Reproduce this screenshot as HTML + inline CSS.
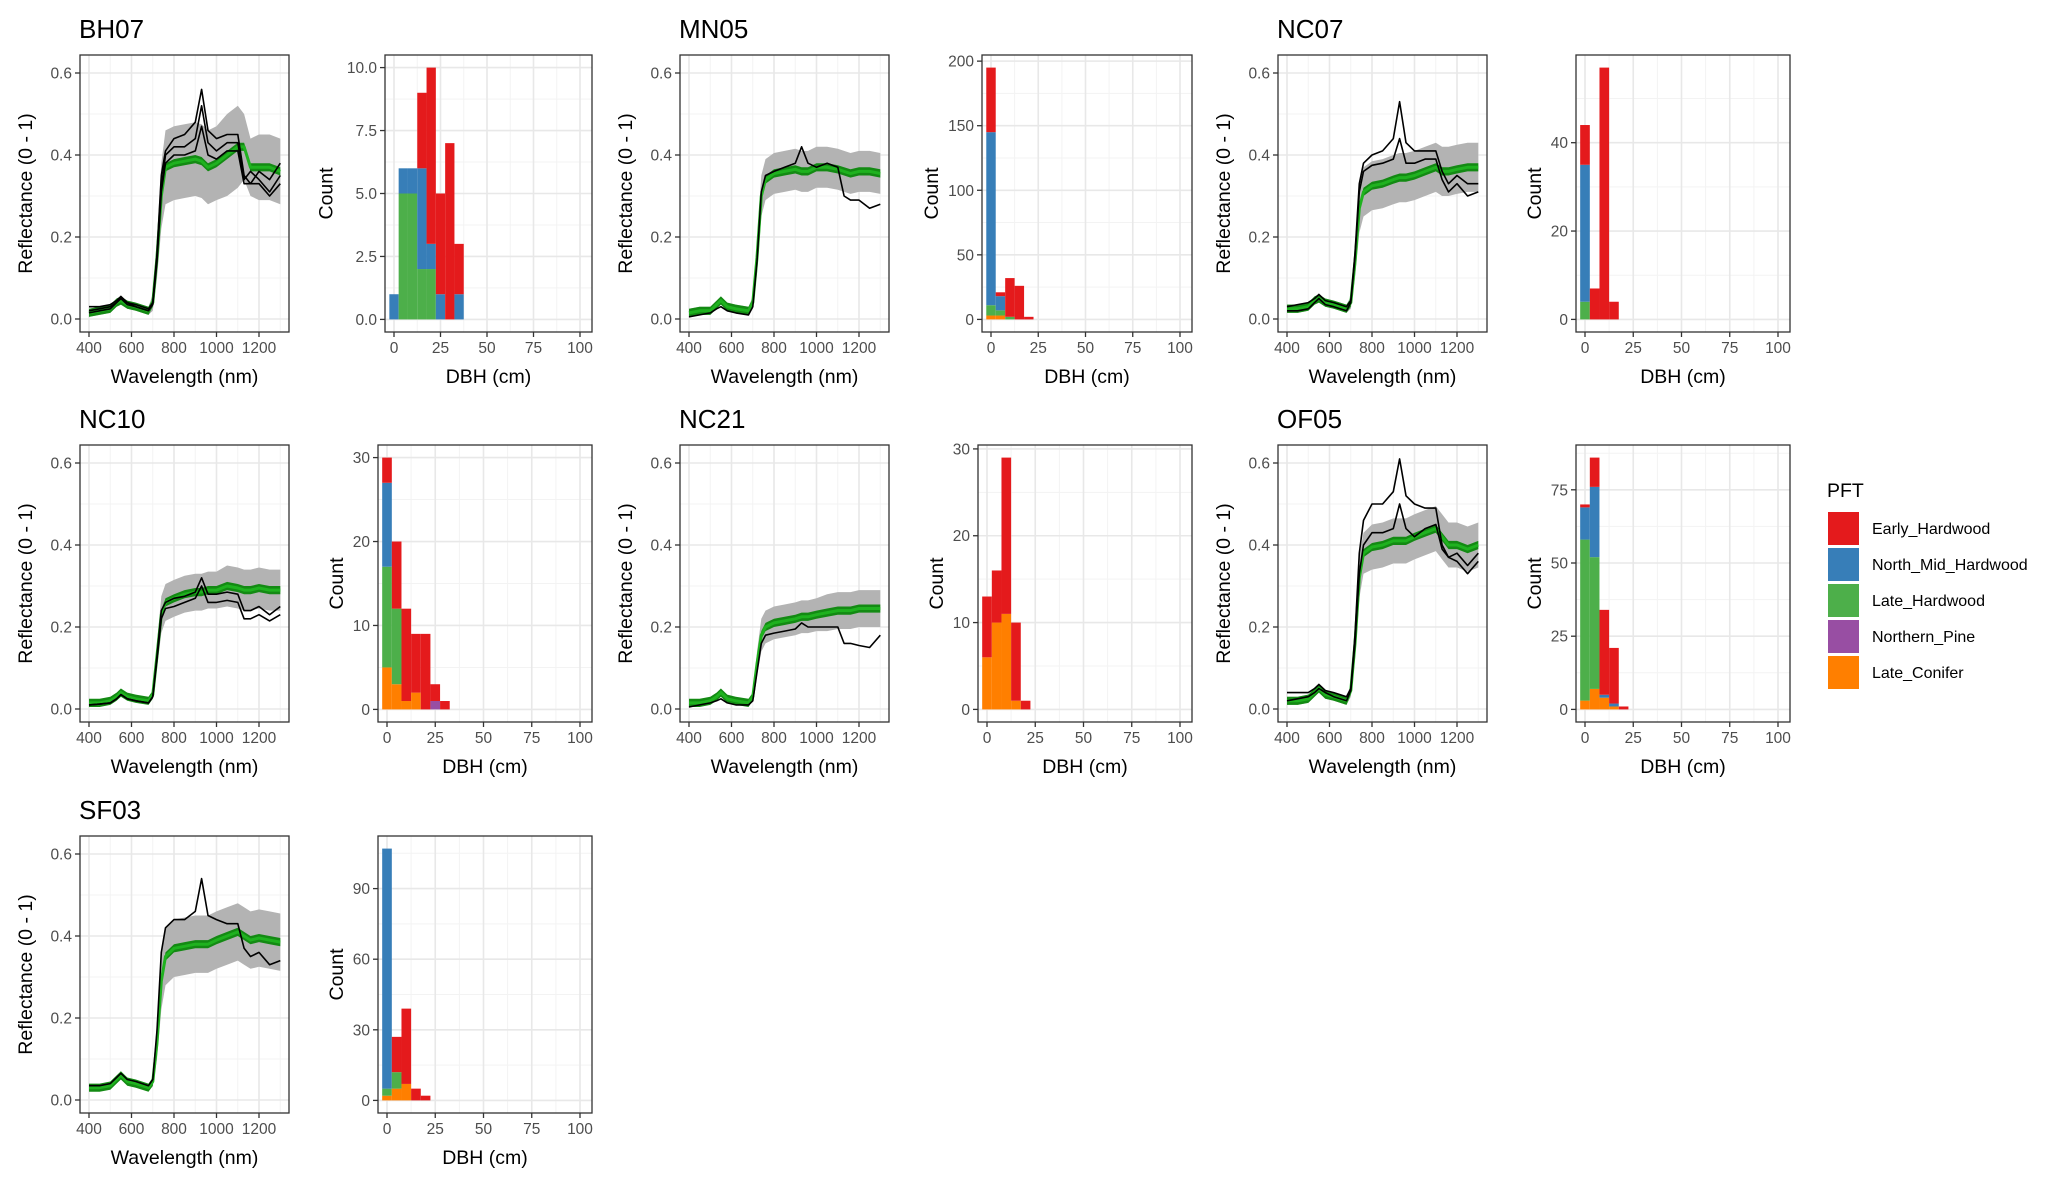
<!DOCTYPE html>
<html><head><meta charset="utf-8"><style>
html,body{margin:0;padding:0;background:#fff;}
svg{display:block;font-family:"Liberation Sans",Arial,sans-serif;}
</style></head><body>
<svg id="chart" width="2067" height="1185" viewBox="0 0 2067 1185" xmlns="http://www.w3.org/2000/svg"></svg>
<script>
const sites = ["BH07","MN05","NC07","NC10","NC21","OF05","SF03"];
const wavelengths = [400,450,500,530,550,580,620,680,700,720,740,760,800,850,900,930,960,1000,1050,1100,1130,1160,1200,1250,1300];
const meanBH07 = [0.015,0.02,0.025,0.04,0.045,0.035,0.03,0.02,0.04,0.15,0.30,0.37,0.38,0.385,0.39,0.385,0.37,0.38,0.40,0.42,0.42,0.37,0.37,0.37,0.36];
const sdBH07 = [0.01,0.01,0.01,0.01,0.01,0.01,0.01,0.01,0.02,0.05,0.08,0.09,0.09,0.09,0.09,0.09,0.09,0.09,0.10,0.10,0.08,0.07,0.08,0.08,0.08];
const linesBH07 = [
 [0.03,0.03,0.035,0.045,0.055,0.04,0.035,0.025,0.04,0.16,0.35,0.41,0.44,0.45,0.48,0.56,0.46,0.44,0.45,0.45,0.35,0.33,0.36,0.34,0.38],
 [0.02,0.025,0.03,0.04,0.05,0.04,0.03,0.02,0.04,0.15,0.32,0.40,0.42,0.42,0.44,0.52,0.43,0.41,0.43,0.43,0.34,0.36,0.34,0.31,0.35],
 [0.015,0.02,0.025,0.04,0.05,0.035,0.03,0.02,0.035,0.14,0.31,0.38,0.40,0.40,0.41,0.47,0.40,0.39,0.41,0.41,0.33,0.33,0.33,0.30,0.33]];
const meanMN05 = [0.015,0.02,0.02,0.035,0.045,0.03,0.025,0.02,0.04,0.15,0.30,0.34,0.355,0.36,0.365,0.36,0.36,0.37,0.37,0.365,0.36,0.355,0.36,0.36,0.355];
const sdMN05 = [0.01,0.01,0.01,0.01,0.01,0.01,0.01,0.01,0.015,0.04,0.05,0.05,0.05,0.05,0.05,0.05,0.05,0.05,0.05,0.05,0.05,0.05,0.05,0.05,0.05];
const linesMN05 = [
 [0.005,0.01,0.015,0.025,0.03,0.02,0.015,0.01,0.03,0.14,0.31,0.35,0.36,0.37,0.38,0.42,0.38,0.37,0.38,0.37,0.30,0.29,0.29,0.27,0.28]];
const meanNC07 = [0.025,0.025,0.03,0.045,0.05,0.04,0.035,0.025,0.04,0.14,0.27,0.31,0.325,0.33,0.34,0.345,0.345,0.35,0.36,0.37,0.36,0.36,0.365,0.37,0.37];
const sdNC07 = [0.01,0.01,0.01,0.01,0.01,0.01,0.01,0.01,0.015,0.04,0.06,0.06,0.06,0.06,0.06,0.06,0.06,0.06,0.06,0.06,0.06,0.06,0.06,0.06,0.06];
const linesNC07 = [
 [0.03,0.035,0.04,0.05,0.06,0.045,0.04,0.03,0.045,0.16,0.33,0.38,0.40,0.41,0.44,0.53,0.43,0.41,0.41,0.41,0.36,0.33,0.35,0.33,0.33],
 [0.02,0.02,0.025,0.04,0.05,0.035,0.03,0.02,0.04,0.15,0.31,0.36,0.375,0.38,0.39,0.44,0.38,0.38,0.39,0.39,0.34,0.31,0.33,0.30,0.31]];
const meanNC10 = [0.015,0.015,0.02,0.03,0.04,0.03,0.025,0.02,0.035,0.13,0.23,0.26,0.27,0.28,0.285,0.285,0.29,0.29,0.30,0.295,0.29,0.29,0.295,0.29,0.29];
const sdNC10 = [0.008,0.008,0.008,0.008,0.01,0.008,0.008,0.008,0.01,0.03,0.045,0.045,0.045,0.045,0.045,0.045,0.045,0.045,0.05,0.05,0.05,0.05,0.05,0.05,0.05];
const linesNC10 = [
 [0.01,0.012,0.015,0.025,0.035,0.025,0.02,0.015,0.03,0.13,0.24,0.26,0.27,0.275,0.285,0.32,0.28,0.28,0.285,0.28,0.24,0.24,0.25,0.23,0.25],
 [0.01,0.012,0.015,0.025,0.035,0.025,0.02,0.015,0.03,0.12,0.22,0.245,0.25,0.26,0.27,0.30,0.26,0.26,0.265,0.26,0.22,0.22,0.23,0.215,0.23]];
const meanNC21 = [0.015,0.015,0.02,0.03,0.04,0.025,0.02,0.015,0.03,0.11,0.18,0.20,0.21,0.215,0.22,0.225,0.225,0.23,0.235,0.24,0.24,0.24,0.245,0.245,0.245];
const sdNC21 = [0.008,0.008,0.008,0.008,0.01,0.008,0.008,0.008,0.01,0.03,0.04,0.04,0.04,0.04,0.04,0.04,0.04,0.04,0.045,0.045,0.045,0.045,0.045,0.045,0.045];
const linesNC21 = [
 [0.005,0.01,0.015,0.02,0.025,0.015,0.01,0.01,0.02,0.09,0.16,0.18,0.185,0.19,0.195,0.21,0.20,0.20,0.20,0.20,0.16,0.16,0.155,0.15,0.18]];
const meanOF05 = [0.02,0.02,0.025,0.04,0.05,0.035,0.03,0.02,0.045,0.16,0.32,0.38,0.395,0.40,0.41,0.41,0.41,0.42,0.43,0.44,0.42,0.40,0.40,0.39,0.40];
const sdOF05 = [0.01,0.01,0.01,0.01,0.01,0.01,0.01,0.01,0.015,0.04,0.05,0.05,0.055,0.055,0.055,0.055,0.055,0.055,0.055,0.055,0.055,0.055,0.055,0.055,0.055];
const linesOF05 = [
 [0.04,0.04,0.04,0.05,0.06,0.045,0.04,0.03,0.05,0.18,0.38,0.46,0.50,0.50,0.53,0.61,0.52,0.50,0.49,0.49,0.40,0.37,0.36,0.33,0.36],
 [0.02,0.025,0.03,0.04,0.05,0.04,0.03,0.02,0.045,0.16,0.33,0.40,0.43,0.43,0.44,0.50,0.44,0.42,0.44,0.45,0.39,0.37,0.38,0.35,0.38]];
const meanSF03 = [0.03,0.03,0.035,0.05,0.06,0.045,0.04,0.03,0.045,0.14,0.29,0.35,0.37,0.375,0.38,0.38,0.38,0.39,0.40,0.41,0.40,0.39,0.395,0.39,0.385];
const sdSF03 = [0.008,0.008,0.008,0.008,0.01,0.008,0.008,0.008,0.012,0.04,0.07,0.07,0.07,0.07,0.07,0.07,0.07,0.07,0.07,0.07,0.07,0.07,0.07,0.07,0.07];
const linesSF03 = [
 [0.035,0.035,0.04,0.055,0.065,0.05,0.045,0.035,0.05,0.17,0.36,0.42,0.44,0.44,0.46,0.54,0.45,0.44,0.43,0.43,0.37,0.35,0.36,0.33,0.34]];

const dbhBins = [0,5,10,15,20,25,30,35];
const pftNames = ["Early_Hardwood","North_Mid_Hardwood","Late_Hardwood","Northern_Pine","Late_Conifer"];
const pftColors = ["#E41A1C","#377EB8","#4DAF4A","#984EA3","#FF7F00"];
const earlyBH07=[0,0,0,3,7,4,7,2], northBH07=[1,1,1,4,1,1,0,1], lateBH07=[0,5,5,2,2,0,0,0], pineBH07=[0,0,0,0,0,0,0,0], coniferBH07=[0,0,0,0,0,0,0,0];
const earlyMN05=[50,3,30,26,2,0,0,0], northMN05=[134,11,0,0,0,0,0,0], lateMN05=[8,4,2,0,0,0,0,0], pineMN05=[0,0,0,0,0,0,0,0], coniferMN05=[3,3,0,0,0,0,0,0];
const earlyNC07=[9,7,57,4,0,0,0,0], northNC07=[31,0,0,0,0,0,0,0], lateNC07=[4,0,0,0,0,0,0,0], pineNC07=[0,0,0,0,0,0,0,0], coniferNC07=[0,0,0,0,0,0,0,0];
const earlyNC10=[3,8,11,7,9,2,1,0], northNC10=[10,0,0,0,0,0,0,0], lateNC10=[12,9,0,0,0,0,0,0], pineNC10=[0,0,0,0,0,1,0,0], coniferNC10=[5,3,1,2,0,0,0,0];
const earlyNC21=[7,6,18,9,1,0,0,0], northNC21=[0,0,0,0,0,0,0,0], lateNC21=[0,0,0,0,0,0,0,0], pineNC21=[0,0,0,0,0,0,0,0], coniferNC21=[6,10,11,1,0,0,0,0];
const earlyOF05=[1,10,29,19,1,0,0,0], northOF05=[11,24,1,1,0,0,0,0], lateOF05=[55,45,0,0,0,0,0,0], pineOF05=[0,0,0,0,0,0,0,0], coniferOF05=[3,7,4,1,0,0,0,0];
const earlySF03=[0,15,32,5,2,0,0,0], northSF03=[102,0,0,0,0,0,0,0], lateSF03=[3,7,0,0,0,0,0,0], pineSF03=[0,0,0,0,0,0,0,0], coniferSF03=[2,5,7,0,0,0,0,0];
const countTicksBH07=[0,2.5,5,7.5,10], countLabelsBH07=["0.0","2.5","5.0","7.5","10.0"];
const countTicksMN05=[0,50,100,150,200], countTicksNC07=[0,20,40], countTicksNC10=[0,10,20,30];
const countTicksNC21=[0,10,20,30], countTicksOF05=[0,25,50,75], countTicksSF03=[0,30,60,90];
const wlTicks=[400,600,800,1000,1200], reflTicks=[0,0.2,0.4,0.6], reflLabels=["0.0","0.2","0.4","0.6"], dbhTicks=[0,25,50,75,100];

const siteData = {
 BH07:{mean:meanBH07,sd:sdBH07,lines:linesBH07,stack:[earlyBH07,northBH07,lateBH07,pineBH07,coniferBH07],ticks:countTicksBH07,labels:countLabelsBH07},
 MN05:{mean:meanMN05,sd:sdMN05,lines:linesMN05,stack:[earlyMN05,northMN05,lateMN05,pineMN05,coniferMN05],ticks:countTicksMN05},
 NC07:{mean:meanNC07,sd:sdNC07,lines:linesNC07,stack:[earlyNC07,northNC07,lateNC07,pineNC07,coniferNC07],ticks:countTicksNC07},
 NC10:{mean:meanNC10,sd:sdNC10,lines:linesNC10,stack:[earlyNC10,northNC10,lateNC10,pineNC10,coniferNC10],ticks:countTicksNC10},
 NC21:{mean:meanNC21,sd:sdNC21,lines:linesNC21,stack:[earlyNC21,northNC21,lateNC21,pineNC21,coniferNC21],ticks:countTicksNC21},
 OF05:{mean:meanOF05,sd:sdOF05,lines:linesOF05,stack:[earlyOF05,northOF05,lateOF05,pineOF05,coniferOF05],ticks:countTicksOF05},
 SF03:{mean:meanSF03,sd:sdSF03,lines:linesSF03,stack:[earlySF03,northSF03,lateSF03,pineSF03,coniferSF03],ticks:countTicksSF03}
};

const NS="http://www.w3.org/2000/svg";
const svg=document.getElementById('chart');
function mk(tag,attrs,parent){const e=document.createElementNS(NS,tag);for(const k in attrs)e.setAttribute(k,attrs[k]);(parent||svg).appendChild(e);return e;}
function txt(s,attrs,parent){const e=mk('text',attrs,parent);e.textContent=s;return e;}
const colOff=[0,600,1198], rowOff=[0,390,781];
const TOP=55, BOT=332;

sites.forEach((site,i)=>{
  const d=siteData[site];
  const ox=colOff[i%3], oy=rowOff[Math.floor(i/3)];
  const g=mk('g',{});
  
  
  const t=txt(site,{x:79+ox,y:38+oy,'font-size':26,fill:'#000'},g);
  
  
  const L=80+ox, R=289+ox, T=TOP+oy, B=BOT+oy;
  const xs=w=>89+ox+(w-400)*0.2125;
  const ys=v=>319+oy-v*410;
  const sp=mk('g',{},g);
  
  
  mk('rect',{x:L,y:T,width:R-L,height:B-T,fill:'#fff'},sp);
  [500,700,900,1100,1300].forEach(w=>mk('line',{x1:xs(w),x2:xs(w),y1:T,y2:B,stroke:'#f3f3f3','stroke-width':1},sp));
  [0.1,0.3,0.5].forEach(v=>mk('line',{x1:L,x2:R,y1:ys(v),y2:ys(v),stroke:'#f3f3f3','stroke-width':1},sp));
  wlTicks.forEach(w=>mk('line',{x1:xs(w),x2:xs(w),y1:T,y2:B,stroke:'#e8e8e8','stroke-width':1.6},sp));
  reflTicks.forEach(v=>mk('line',{x1:L,x2:R,y1:ys(v),y2:ys(v),stroke:'#e8e8e8','stroke-width':1.6},sp));
  let up='',dn='';
  wavelengths.forEach((w,k)=>{up+=(k?'L':'M')+xs(w).toFixed(1)+','+ys(d.mean[k]+d.sd[k]).toFixed(1);});
  for(let k=wavelengths.length-1;k>=0;k--)dn+='L'+xs(wavelengths[k]).toFixed(1)+','+ys(d.mean[k]-d.sd[k]).toFixed(1);
  const band=mk('path',{d:up+dn+'Z',fill:'#b3b3b3'},sp);
  
  
  let ru='',rd='';
  wavelengths.forEach((w,k)=>{ru+=(k?'L':'M')+xs(w).toFixed(1)+','+ys(d.mean[k]+0.010).toFixed(1);});
  for(let k=wavelengths.length-1;k>=0;k--)rd+='L'+xs(wavelengths[k]).toFixed(1)+','+ys(d.mean[k]-0.010).toFixed(1);
  const rib=mk('path',{d:ru+rd+'Z',fill:'#138a13'},sp);
  
  
  const mp=wavelengths.map((w,k)=>(k?'L':'M')+xs(w).toFixed(1)+','+ys(d.mean[k]).toFixed(1)).join('');
  const ml=mk('path',{d:mp,fill:'none',stroke:'#1fb21f','stroke-width':3,'stroke-linejoin':'round'},sp);
  
  
  d.lines.forEach(arr=>{
    const p=wavelengths.map((w,k)=>(k?'L':'M')+xs(w).toFixed(1)+','+ys(arr[k]).toFixed(1)).join('');
    const ln=mk('path',{d:p,fill:'none',stroke:'#000','stroke-width':1.6,'stroke-linejoin':'round'},sp);
    
    
  });
  mk('rect',{x:L,y:T,width:R-L,height:B-T,fill:'none',stroke:'#333','stroke-width':1.3},sp);
  wlTicks.forEach(w=>{
    mk('line',{x1:xs(w),x2:xs(w),y1:B,y2:B+5,stroke:'#333','stroke-width':1.3},sp);
    const tl=txt(String(w),{x:xs(w),y:B+21,'font-size':15.5,'text-anchor':'middle',fill:'#4d4d4d'},sp);
    
    
  });
  reflTicks.forEach((v,k)=>{
    mk('line',{x1:L-5,x2:L,y1:ys(v),y2:ys(v),stroke:'#333','stroke-width':1.3},sp);
    const tl=txt(reflLabels[k],{x:L-8,y:ys(v)+5.5,'font-size':15.5,'text-anchor':'end',fill:'#4d4d4d'},sp);
    
    
  });
  const xt=txt('Wavelength (nm)',{x:(L+R)/2,y:B+51,'font-size':19.5,'text-anchor':'middle',fill:'#000'},sp);
  
  
  const yt=txt('Reflectance (0 - 1)',{x:0,y:0,'font-size':19.5,'text-anchor':'middle',fill:'#000',transform:`translate(${32+ox},${(T+B)/2}) rotate(-90)`},sp);
  
  

  const lab=d.labels||d.ticks.map(String);
  const maxLen=Math.max(...lab.map(s=>s.length));
  const HL=(maxLen>=4?385:maxLen==3?382:378)+ox, HR=592+ox;
  const hx=v=>HL+9+(v)*((HR-12-(HL+9))/100);
  let M=0; dbhBins.forEach((b,k)=>{let s=0;d.stack.forEach(a=>s+=a[k]);M=Math.max(M,s);});
  const hy=v=>B-(v+0.05*M)/(1.1*M)*(B-T);
  const hp=mk('g',{},g);
  
  
  mk('rect',{x:HL,y:T,width:HR-HL,height:B-T,fill:'#fff'},hp);
  [12.5,37.5,62.5,87.5].forEach(v=>mk('line',{x1:hx(v),x2:hx(v),y1:T,y2:B,stroke:'#f3f3f3','stroke-width':1},hp));
  for(let k=0;k<d.ticks.length;k++){const a=d.ticks[k],b=d.ticks[k+1]!==undefined?d.ticks[k+1]:a+(d.ticks[1]-d.ticks[0]);const m=(a+b)/2;if(hy(m)>T)mk('line',{x1:HL,x2:HR,y1:hy(m),y2:hy(m),stroke:'#f3f3f3','stroke-width':1},hp);}
  dbhTicks.forEach(v=>mk('line',{x1:hx(v),x2:hx(v),y1:T,y2:B,stroke:'#e8e8e8','stroke-width':1.6},hp));
  d.ticks.forEach(v=>mk('line',{x1:HL,x2:HR,y1:hy(v),y2:hy(v),stroke:'#e8e8e8','stroke-width':1.6},hp));
  dbhBins.forEach((b,k)=>{
    let base=0;
    for(let s=4;s>=0;s--){
      const c=d.stack[s][k]; if(!c)continue;
      const r=mk('rect',{x:hx(b-2.5),y:hy(base+c),width:hx(b+2.5)-hx(b-2.5),height:hy(base)-hy(base+c),fill:pftColors[s]},hp);
      
      
      base+=c;
    }
  });
  mk('rect',{x:HL,y:T,width:HR-HL,height:B-T,fill:'none',stroke:'#333','stroke-width':1.3},hp);
  dbhTicks.forEach(v=>{
    mk('line',{x1:hx(v),x2:hx(v),y1:B,y2:B+5,stroke:'#333','stroke-width':1.3},hp);
    const tl=txt(String(v),{x:hx(v),y:B+21,'font-size':15.5,'text-anchor':'middle',fill:'#4d4d4d'},hp);
    
    
  });
  d.ticks.forEach((v,k)=>{
    mk('line',{x1:HL-5,x2:HL,y1:hy(v),y2:hy(v),stroke:'#333','stroke-width':1.3},hp);
    const tl=txt(lab[k],{x:HL-8,y:hy(v)+5.5,'font-size':15.5,'text-anchor':'end',fill:'#4d4d4d'},hp);
    
    
  });
  const hxt=txt('DBH (cm)',{x:(HL+HR)/2,y:B+51,'font-size':19.5,'text-anchor':'middle',fill:'#000'},hp);
  
  
  const hyt=txt('Count',{x:0,y:0,'font-size':19.5,'text-anchor':'middle',fill:'#000',transform:`translate(${HL-maxLen*8.6-18},${(T+B)/2}) rotate(-90)`},hp);
  
  
});

const lg=mk('g',{});


const lt=txt('PFT',{x:1827,y:497,'font-size':19.5,fill:'#000'},lg);


pftNames.forEach((n,k)=>{
  const y=512+k*36;
  const r=mk('rect',{x:1828,y:y,width:31,height:33,fill:pftColors[k]},lg);
  
  
  const t=txt(n,{x:1872,y:y+22,'font-size':16,fill:'#000'},lg);
  
  
});
</script>
</body></html>
